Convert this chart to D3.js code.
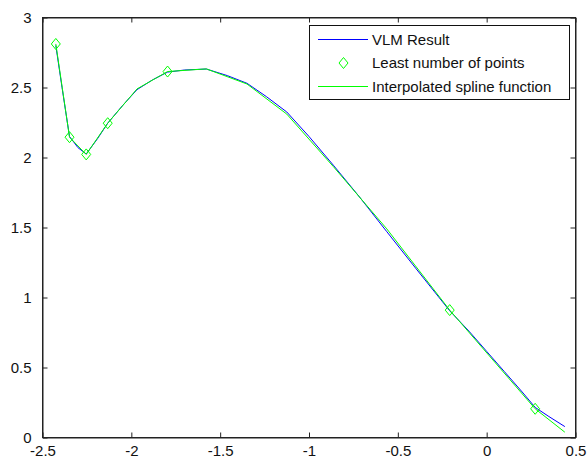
<!DOCTYPE html>
<html>
<head>
<meta charset="utf-8">
<script src="https://cdn.jsdelivr.net/npm/d3@7"></script>
<style>
  html, body { margin: 0; padding: 0; background: #fff; }
  svg { display: block; }
  text { font-family: "Liberation Sans", Arial, sans-serif; font-size: 15px; fill: #111; }
</style>
</head>
<body>
<svg id="chart" width="587" height="463"></svg>
<script>
// VLM solution (dense curve)
const vlmX = [-2.425, -2.39, -2.348, -2.30, -2.254, -2.19, -2.133, -2.05, -1.968, -1.88, -1.796, -1.70, -1.578, -1.46, -1.349, -1.24, -1.125, -1.00, -0.863, -0.72, -0.562, -0.40, -0.208, -0.10, 0.0, 0.10, 0.20, 0.273, 0.35, 0.44];
const vlmY = [2.80, 2.50, 2.15, 2.07, 2.025, 2.135, 2.245, 2.37, 2.485, 2.555, 2.61, 2.625, 2.632, 2.585, 2.53, 2.435, 2.325, 2.15, 1.945, 1.725, 1.47, 1.21, 0.905, 0.760, 0.615, 0.470, 0.325, 0.215, 0.150, 0.078];

// Least number of points used for the spline fit
const pointX = [-2.425, -2.348, -2.254, -2.133, -1.796, -0.208, 0.273];
const pointY = [2.811, 2.145, 2.022, 2.245, 2.614, 0.910, 0.205];

// Interpolated spline function, sampled
const splineX = [-2.425, -2.348, -2.254, -2.133, -1.968, -1.796, -1.578, -1.349, -1.125, -0.863, -0.562, -0.208, 0.273, 0.44];
const splineY = [2.811, 2.145, 2.022, 2.245, 2.49, 2.614, 2.633, 2.525, 2.31, 1.935, 1.49, 0.910, 0.205, 0.038];

const xTicks = [-2.5, -2, -1.5, -1, -0.5, 0, 0.5];
const yTicks = [0, 0.5, 1, 1.5, 2, 2.5, 3];

const legendLabels = ["VLM Result", "Least number of points", "Interpolated spline function"];

const svg = d3.select("#chart");
const L = 42.5, R = 575.5, T = 17.5, B = 437.5;

const x = d3.scaleLinear().domain([-2.5, 0.5]).range([L, R]);
const y = d3.scaleLinear().domain([0, 3]).range([B, T]);

const fmt = d => String(d);

// box
svg.append("rect").attr("x", L).attr("y", T).attr("width", R - L).attr("height", B - T)
  .attr("fill", "#fff").attr("stroke", "#222").attr("stroke-width", 1);

// axes with inward ticks on all four sides
const axBottom = svg.append("g").attr("transform", `translate(0,${B})`)
  .call(d3.axisBottom(x).tickValues(xTicks).tickSizeInner(-5).tickSizeOuter(0).tickPadding(10).tickFormat(fmt));
const axTop = svg.append("g").attr("transform", `translate(0,${T})`)
  .call(d3.axisTop(x).tickValues(xTicks).tickSizeInner(-5).tickSizeOuter(0).tickFormat(""));
const axLeft = svg.append("g").attr("transform", `translate(${L},0)`)
  .call(d3.axisLeft(y).tickValues(yTicks).tickSizeInner(-5).tickSizeOuter(0).tickPadding(11).tickFormat(fmt));
const axRight = svg.append("g").attr("transform", `translate(${R},0)`)
  .call(d3.axisRight(y).tickValues(yTicks).tickSizeInner(-5).tickSizeOuter(0).tickFormat(""));

[axBottom, axTop, axLeft, axRight].forEach(g => {
  g.select(".domain").attr("stroke", "#222");
  g.selectAll(".tick line").attr("stroke", "#222");
  g.selectAll("text").attr("font-family", "'Liberation Sans', Arial, sans-serif").attr("font-size", 15).attr("fill", "#111");
});
axBottom.selectAll("text").attr("dy", "0.55em");

const line = d3.line().x(d => x(d[0])).y(d => y(d[1]));

svg.append("path")
  .datum(vlmX.map((v, i) => [v, vlmY[i]]))
  .attr("d", line).attr("fill", "none").attr("stroke", "#0000ff").attr("stroke-width", 1);

svg.append("path")
  .datum(splineX.map((v, i) => [v, splineY[i]]))
  .attr("d", line).attr("fill", "none").attr("stroke", "#00ff00").attr("stroke-width", 1);

const diamond = (cx, cy) => `M${cx},${cy - 5.5}L${cx + 4.5},${cy}L${cx},${cy + 5.5}L${cx - 4.5},${cy}Z`;

svg.append("g").selectAll("path")
  .data(pointX.map((v, i) => [v, pointY[i]]))
  .join("path")
  .attr("d", d => diamond(x(d[0]), y(d[1])))
  .attr("fill", "none").attr("stroke", "#00ff00").attr("stroke-width", 1);

// legend
const lg = svg.append("g");
lg.append("rect").attr("x", 309.5).attr("y", 25.5).attr("width", 260).attr("height", 74)
  .attr("fill", "#fff").attr("stroke", "#111").attr("stroke-width", 1);
const rowsY = [39.5, 63, 86.5];
lg.append("line").attr("x1", 318).attr("x2", 368).attr("y1", rowsY[0]).attr("y2", rowsY[0]).attr("stroke", "#0000ff");
lg.append("path").attr("d", diamond(343.5, rowsY[1])).attr("fill", "none").attr("stroke", "#00ff00");
lg.append("line").attr("x1", 318).attr("x2", 368).attr("y1", rowsY[2]).attr("y2", rowsY[2]).attr("stroke", "#00ff00");
lg.selectAll("text").data(legendLabels).join("text")
  .attr("x", 372).attr("y", (d, i) => rowsY[i]).attr("dy", "0.36em").text(d => d);
</script>
</body>
</html>
